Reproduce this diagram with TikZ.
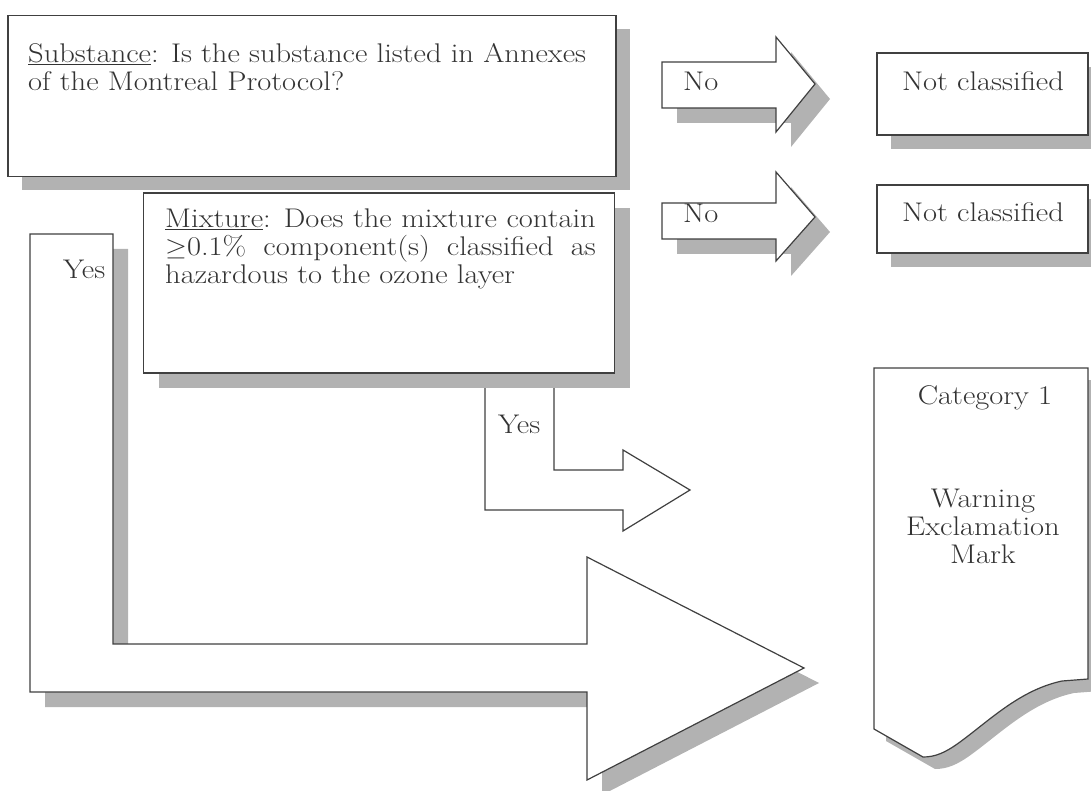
\documentclass[tikz,border=0pt]{standalone}
\usetikzlibrary{shadows}
\begin{document}
\begin{tikzpicture}[x=1pt,y=-1pt]

\tikzset{mybox/.style={draw=black!75,line width=1.2pt,fill=white,inner sep=0pt},}
\tikzset{myshadow/.style={drop shadow={shadow xshift=#1,shadow yshift=-#1,fill=black!30,opacity=1}},}
\tikzset{mytext/.style={inner sep=0pt,text=black!80,font=\fontsize{27}{28}\selectfont,xscale=1.13,transform shape},}

\useasboundingbox (0,0) rectangle (1091,791);

%FRECCE YES
\draw[mybox] (485,380) -- (485,510) -- (623,510) -- (623,531) -- (690,490) -- (623,450) -- (623,470) -- (554,470) -- (554,380) -- cycle;
\draw[mybox,myshadow=15pt] (30,234) -- (113,234) -- (113,644) -- (587,644) -- (587,557) -- (804,668) -- (587,780) -- (587,692) -- (30,692) -- cycle;
\draw (63,279) node[mytext,anchor=base west] (yes1) {Yes};
\draw (498,433) node[mytext,anchor=base west] (yes2) {Yes};

%SUBSTANCE
\draw (312,96) node[mybox,myshadow=14pt,minimum width=608pt,minimum height=161pt] (subst) {};
\draw (28,43) node[mytext,anchor=north west,align=left] (substtext) {\underline{Substance}: Is the substance listed in Annexes\\of the Montreal Protocol?};

%MIXTURE
\draw (379,283) node[mybox,myshadow=15pt,minimum width=471pt,minimum height=180pt] (mixt) {};
\draw (165,209) node[mytext,anchor=north west,align=left] (mixttext) {\makebox[381pt][s]{\underline{Mixture}: Does the mixture contain}\\\makebox[381pt][s]{$\geq$0.1\% component(s) classified as}\\hazardous to the ozone layer};

%FRECCE NO
\draw[mybox,myshadow=15pt] (662,62) -- (776,62) -- (776,37) -- (815,84) -- (776,132) -- (776,108) -- (662,108) -- cycle;
\draw[mybox,myshadow=15pt] (662,203) -- (776,203) -- (776,172) -- (815,217) -- (776,261) -- (776,239) -- (662,239) -- cycle;
\draw (683,91) node[mytext,anchor=base west] (no1) {No};
\draw (683,223) node[mytext,anchor=base west] (no2) {No};

%NOT CLASSIFIED
\draw (982.5,94) node[mybox,myshadow=14pt,minimum width=211pt,minimum height=82pt] (notcl1) {};
\draw (982.5,219) node[mybox,myshadow=14pt,minimum width=211pt,minimum height=68pt] (notcl2) {};
\draw (983,91) node[mytext,anchor=base] (notcltext1) {Not classified};
\draw (983,222) node[mytext,anchor=base] (notcltext2) {Not classified};

%CATEGORY 1
\draw[mybox,myshadow=12pt] (874,368) -- (1088,368) -- (1088,679) -- (1062,681) .. controls (1020,690) and (990,720) .. (960,742) .. controls (945,753) and (935,757) .. (923,757) -- (874,729) -- cycle;
\draw (985,404) node[mytext,anchor=base] (cat) {Category 1};
\draw (983,489) node[mytext,anchor=north,align=center] (pict) {Warning\\Exclamation\\Mark};

\end{tikzpicture}
\end{document}
